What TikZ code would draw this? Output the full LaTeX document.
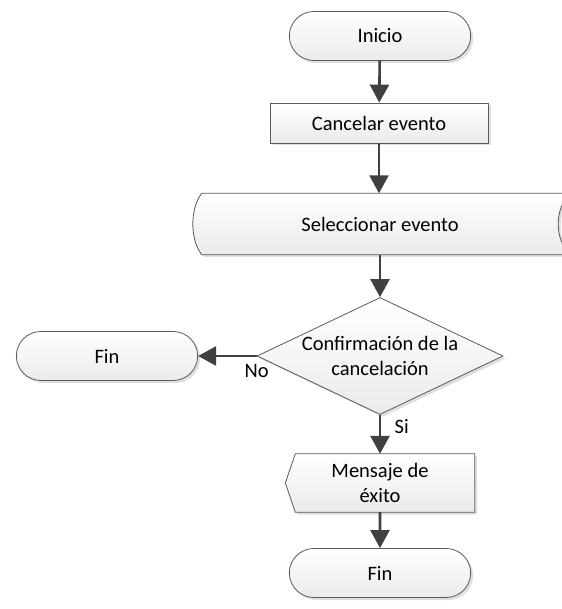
\documentclass[tikz,border=0pt]{standalone}
\usepackage{fontspec}
\setmainfont{Carlito}
\usetikzlibrary{shapes.misc,shapes.geometric,arrows.meta,shadows,calc,backgrounds}
\definecolor{flowgray}{HTML}{404040}
\definecolor{edgegray}{HTML}{5A5A5A}

\begin{document}
\begin{tikzpicture}[x=1pt, y=-1pt,
    font=\fontsize{20.5}{25}\selectfont,
    box/.style={draw=edgegray, line width=0.8pt, top color=white, bottom color=black!8,
      drop shadow={shadow xshift=2.5pt, shadow yshift=-2.5pt, fill=black!25, opacity=0.5}},
    terminal/.style={box, rounded rectangle, minimum width=188pt, minimum height=49pt},
    process/.style={box, rectangle, minimum width=218pt, minimum height=40pt},
    decision/.style={box, diamond, aspect=2.1, minimum width=246pt, minimum height=117pt,
      inner sep=0pt, align=center},
    textonly/.style={inner sep=0pt, align=center},
    flow/.style={draw=flowgray, line width=2.6pt, -{Triangle[length=18pt, width=19pt]}}]
    \useasboundingbox (0,0) rectangle (561,609);
    % Start and first step
    \node[terminal] (inicio) at (380, 36) {Inicio};
    \node[process] (cancelar) at (379, 123) {Cancelar evento};
    % Stored data: left convex, right concave
    \node[textonly, minimum width=356pt, minimum height=61pt] (selec) at (380, 224) {Seleccionar evento};
    % Decision and its two outcomes
    \node[decision] (confirma) at (380, 356) {Confirmaci\'on de la\\cancelaci\'on};
    \node[terminal] (finno) at (107, 356) {Fin};
    \node[textonly, minimum width=189pt, minimum height=58pt] (mensaje) at (380, 483) {Mensaje de\\\'exito};
    \node[terminal] (finsi) at (380, 573) {Fin};
    % Outlines of the two drawn shapes
    \begin{scope}[on background layer]
      \path[box] (selec.north west) .. controls +(-12,15) and +(-12,-15) .. (selec.south west)
        -- ($(selec.south east)+(12,0)$) .. controls +(-16,-15) and +(-16,15) .. ($(selec.north east)+(12,0)$)
        -- cycle;
      \path[box] (mensaje.north east) -- ($(mensaje.north west)+(10,0)$) -- (mensaje.west)
        -- ($(mensaje.south west)+(10,0)$) -- (mensaje.south east) -- cycle;
    \end{scope}
    % Connectors
    \draw[flow] (inicio) -- (cancelar);
    \draw[flow] (cancelar) -- (cancelar |- selec.north);
    \draw[flow] (selec) -- (confirma);
    \draw[flow] (confirma.west) -- node[at start, below, yshift=-4pt] {No} (finno.east);
    \draw[flow] (confirma.south) -- node[pos=0.3, right, xshift=10pt] {Si} (mensaje.north);
    \draw[flow] (mensaje) -- (finsi);
  \end{tikzpicture}
\end{document}
